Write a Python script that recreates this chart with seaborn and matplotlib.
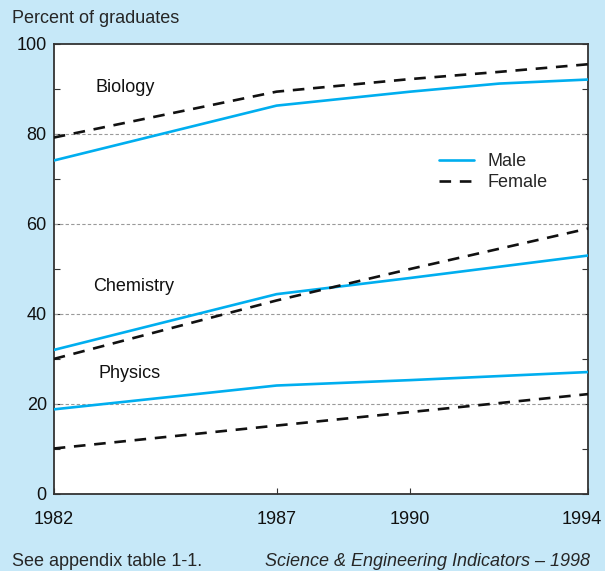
import pandas as pd
import matplotlib.pyplot as plt
import matplotlib.transforms as mtrans
import seaborn as sns

# values (percent of graduates)
years = [1982, 1987, 1990, 1992, 1994]
bio_male = [74.1, 86.3, 89.4, 91.2, 92.1]
bio_female = [79.2, 89.4, 92.2, 93.8, 95.5]
chem_male = [32.0, 44.4, 48.0, 50.5, 53.0]
chem_female = [30.0, 43.0, 50.0, 54.5, 59.0]
phys_male = [18.8, 24.1, 25.3, 26.2, 27.1]
phys_female = [10.1, 15.2, 18.2, 20.2, 22.2]

fields = ['Biology', 'Chemistry', 'Physics']
field_labels = {'Biology': (1982.93, 90.4), 'Chemistry': (1982.88, 46.0),
                'Physics': (1983.0, 26.7)}

BG = '#c6e8f8'
BLUE = '#00aeef'
FS = 13

series = {
    ('Biology', 'Male'): bio_male, ('Biology', 'Female'): bio_female,
    ('Chemistry', 'Male'): chem_male, ('Chemistry', 'Female'): chem_female,
    ('Physics', 'Male'): phys_male, ('Physics', 'Female'): phys_female,
}
rows = []
for (field, sex), vals in series.items():
    for yr, v in zip(years, vals):
        rows.append({'year': yr, 'percent': v, 'field': field, 'sex': sex})
df = pd.DataFrame(rows)

sns.set_style('white')
plt.rcParams['font.family'] = ['Liberation Sans', 'DejaVu Sans']

fig = plt.figure(figsize=(6.05, 5.71), dpi=100, facecolor=BG)
ax = fig.add_axes([0.0888, 0.1349, 0.8839, 0.7881])
ax.set_facecolor('white')

for g in [20, 40, 60, 80]:
    ax.axhline(g, color='#9a9a9a', lw=0.8, ls=(0, (3, 2)), zorder=1)

sns.lineplot(data=df, x='year', y='percent', units='field', estimator=None,
             hue='sex', style='sex', hue_order=['Male', 'Female'],
             style_order=['Male', 'Female'],
             palette={'Male': BLUE, 'Female': '#111111'},
             dashes={'Male': '', 'Female': (4.4, 3.3)},
             linewidth=1.9, ax=ax, zorder=3)

for f in fields:
    x, y = field_labels[f]
    ax.text(x, y, f, fontsize=FS, ha='left', va='center', color='#111111')

ax.set_xlim(1982, 1994)
ax.set_ylim(0, 100)
ax.set_xticks([1982, 1987, 1990, 1994])
ax.set_yticks([0, 20, 40, 60, 80, 100])
ax.set_yticks([10, 30, 50, 70, 90], minor=True)
ax.tick_params(axis='both', which='both', direction='in', length=4,
               width=0.8, color='#333333', labelsize=FS, labelcolor='#111111',
               right=True, left=True, bottom=True)
ax.tick_params(axis='y', which='minor', length=4)
ax.tick_params(axis='y', pad=5)
ax.tick_params(axis='x', pad=12)
ax.set_xlabel('')
ax.set_ylabel('')
for s in ax.spines.values():
    s.set_color('#333333')
    s.set_linewidth(1.3)

# keep the last year label inside the figure
last = ax.get_xticklabels()[-1]
last.set_transform(last.get_transform() +
                   mtrans.ScaledTranslation(-5 / 72, 0, fig.dpi_scale_trans))

leg = ax.legend(loc='center left', bbox_to_anchor=(0.72, 0.715), frameon=False,
                fontsize=FS, handlelength=1.95, handletextpad=0.75,
                labelspacing=0.25, borderaxespad=0, borderpad=0)

fig.text(0.02, 0.968, 'Percent of graduates', fontsize=FS, va='center')
fig.text(0.02, 0.0175, 'See appendix table 1-1.', fontsize=FS, va='center')
fig.text(0.975, 0.0175, 'Science & Engineering Indicators – 1998', fontsize=FS,
         va='center', ha='right', style='italic')

fig.savefig('out.png', dpi=100, facecolor=BG)
